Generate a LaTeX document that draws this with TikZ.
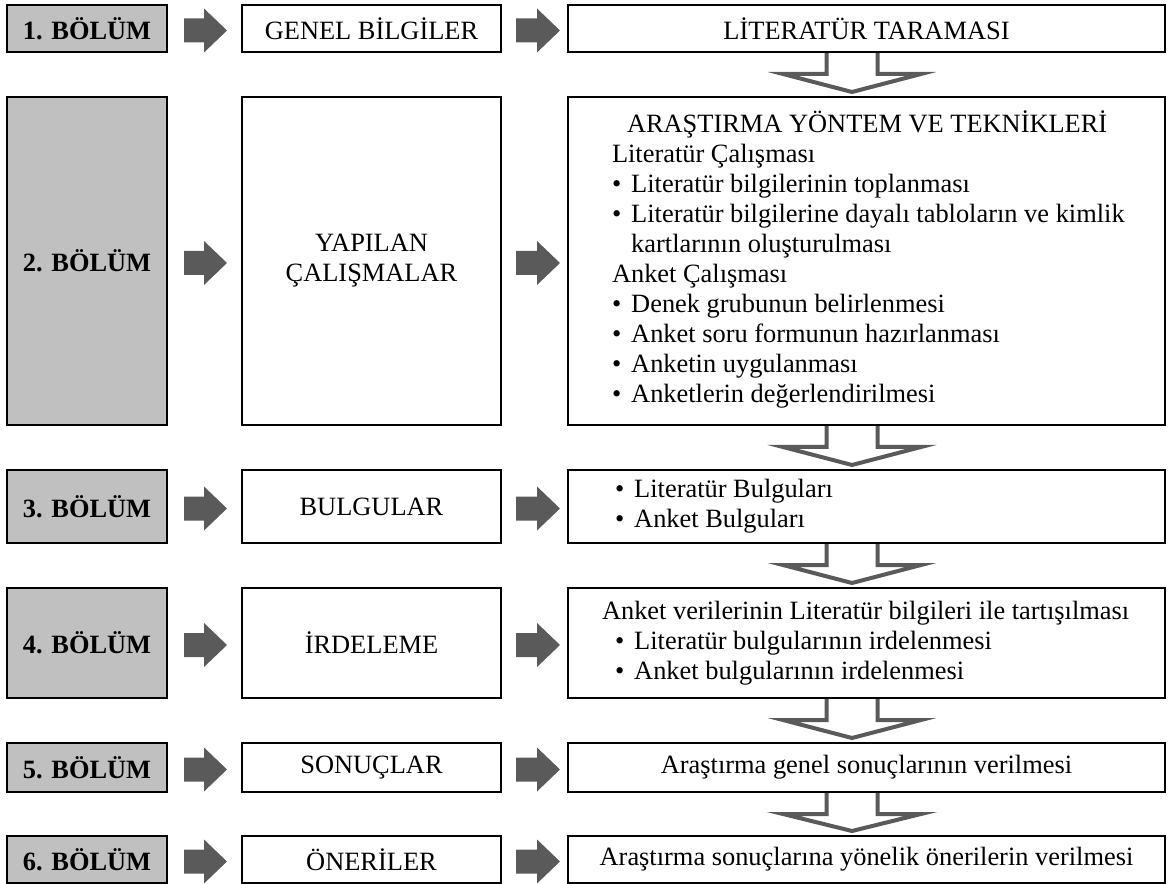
\documentclass[tikz,border=0pt]{standalone}
\usepackage{fontspec}
\setmainfont{Liberation Serif}
\usetikzlibrary{calc}
\pgfdeclarelayer{background}
\pgfsetlayers{background,main}
\definecolor{boxgray}{RGB}{192,192,192}
\definecolor{arrgray}{RGB}{90,90,90}
\newcommand\mybul{•\hspace{7.5pt}}
\newcommand\solidarr[2]{%
  \fill[arrgray] let \p1=#1, \p2=#2 in
  (\x1,\y1+9pt) -- (\x2-17.25pt,\y1+9pt) -- (\x2-17.25pt,\y1+16.5pt) -- (\x2,\y1)
  -- (\x2-17.25pt,\y1-16.5pt) -- (\x2-17.25pt,\y1-9pt) -- (\x1,\y1-9pt) -- cycle;}
\newcommand\hollowarr[2]{%
  \draw[hollowarrow] let \p1=($(#1.south)+(-14.5,0)$), \p2=(#2.north) in
  (\x1-19.125pt,\y1+3pt) -- (\x1-19.125pt,\y1-15.75pt) -- (\x1-51.75pt,\y1-15.75pt)
  -- (\x1,\y2+3pt) -- (\x1+51.75pt,\y1-15.75pt) -- (\x1+19.125pt,\y1-15.75pt)
  -- (\x1+19.125pt,\y1+3pt) -- cycle;}
\begin{document}
\begin{tikzpicture}[x=0.75pt,y=-0.75pt,
  box/.style={draw=black, line width=1.5pt, fill=white, inner sep=0pt,
    font=\fontsize{19.8}{22.5}\selectfont, align=center},
  graybox/.style={box, fill=boxgray, font=\fontsize{19.8}{22.5}\selectfont\bfseries, minimum width=120pt},
  midbox/.style={box, minimum width=194.25pt},
  rightbox/.style={box, minimum width=447.75pt},
  hollowarrow/.style={draw=arrgray, fill=white, line width=3pt, line join=miter}]
\useasboundingbox (0,0) rectangle (1172,884);

% row 1
\node[graybox, minimum height=35.25pt] (g1) at (87,28.5) {1. BÖLÜM};
\node[midbox, minimum height=35.25pt] (m1) at (371.5,28.5) {GENEL BİLGİLER};
\node[rightbox, minimum height=35.25pt] (r1) at (866.5,28.5) {LİTERATÜR TARAMASI};

% row 2
\node[graybox, minimum height=246pt] (g2) at (87,261) {2. BÖLÜM};
\node[midbox, minimum height=246pt] (m2) at (371.5,261) {YAPILAN\\ÇALIŞMALAR};
\node[rightbox, minimum height=246pt] (r2) at (866.5,261) {\makebox[381.75pt][l]{\begin{tabular}{@{}l@{}}
\hspace*{11.25pt}ARAŞTIRMA YÖNTEM VE TEKNİKLERİ\\
Literatür Çalışması\\
\mybul Literatür bilgilerinin toplanması\\
\mybul Literatür bilgilerine dayalı tabloların ve kimlik\\
\phantom{\mybul}kartlarının oluşturulması\\
Anket Çalışması\\
\mybul Denek grubunun belirlenmesi\\
\mybul Anket soru formunun hazırlanması\\
\mybul Anketin uygulanması\\
\mybul Anketlerin değerlendirilmesi
\end{tabular}}};

% row 3
\node[graybox, minimum height=54.75pt] (g3) at (87,506.5) {3. BÖLÜM};
\node[midbox, minimum height=54.75pt] (m3) at (371.5,506.5) {BULGULAR};
\node[rightbox, minimum height=54.75pt] (r3) at (866.5,506.5) {\makebox[381.75pt][l]{\begin{tabular}{@{}l@{}}
\hspace*{2.25pt}\mybul Literatür Bulguları\\
\hspace*{2.25pt}\mybul Anket Bulguları
\end{tabular}}};

% row 4
\node[graybox, minimum height=82.5pt] (g4) at (87,643) {4. BÖLÜM};
\node[midbox, minimum height=82.5pt] (m4) at (371.5,643) {İRDELEME};
\node[rightbox, minimum height=82.5pt] (r4) at (866.5,643) {\makebox[381.75pt][l]{\begin{tabular}{@{}l@{}}
\hspace*{-7.5pt}Anket verilerinin Literatür bilgileri ile tartışılması\\
\hspace*{2.25pt}\mybul Literatür bulgularının irdelenmesi\\
\hspace*{2.25pt}\mybul Anket bulgularının irdelenmesi
\end{tabular}}};

% row 5
\node[graybox, minimum height=36.75pt] (g5) at (87,767.5) {5. BÖLÜM};
\node[midbox, minimum height=36.75pt] (m5) at (371.5,767.5) {SONUÇLAR};
\node[rightbox, minimum height=36.75pt] (r5) at (866.5,767.5) {Araştırma genel sonuçlarının verilmesi};

% row 6
\node[graybox, minimum height=35.25pt] (g6) at (87,859.5) {6. BÖLÜM};
\node[midbox, minimum height=35.25pt] (m6) at (371.5,859.5) {ÖNERİLER};
\node[rightbox, minimum height=35.25pt] (r6) at (866.5,859.5) {Araştırma sonuçlarına yönelik önerilerin verilmesi};

% solid arrows
\foreach \i in {1,...,6}{
  \solidarr{($(g\i.east)+(16,2)$)}{($(m\i.west)+(-14,2)$)}
  \solidarr{($(m\i.east)+(14,2)$)}{($(r\i.west)+(-7,2)$)}
}

% hollow arrows
\begin{pgfonlayer}{background}
\hollowarr{r1}{r2}
\hollowarr{r2}{r3}
\hollowarr{r3}{r4}
\hollowarr{r4}{r5}
\hollowarr{r5}{r6}
\end{pgfonlayer}
\end{tikzpicture}
\end{document}
